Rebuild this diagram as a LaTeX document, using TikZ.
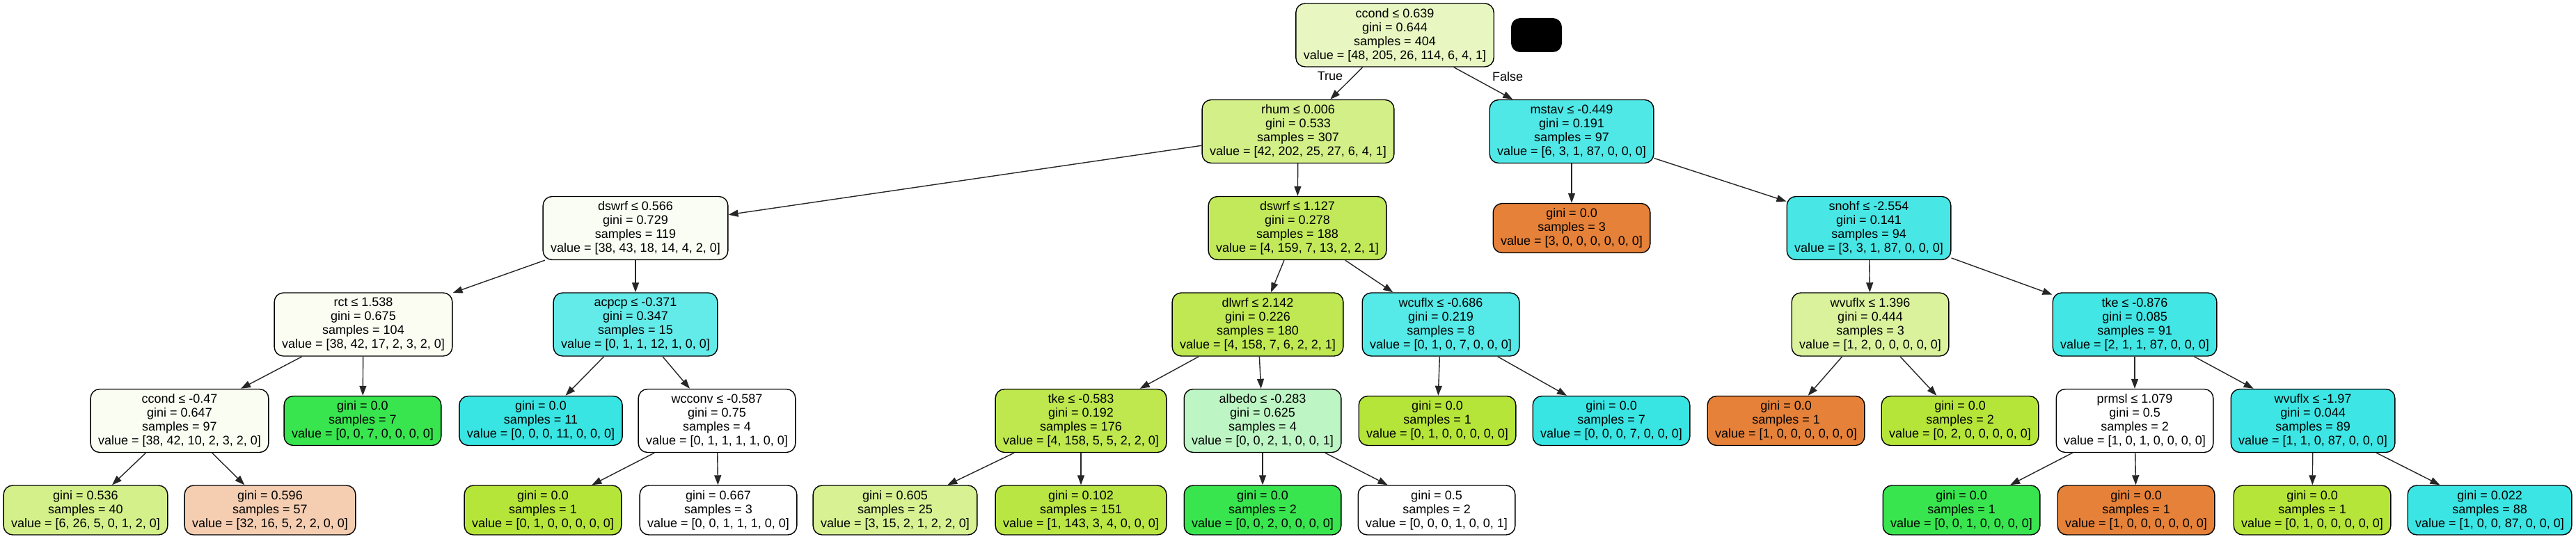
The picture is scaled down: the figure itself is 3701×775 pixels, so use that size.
\documentclass[tikz,border=0pt]{standalone}
\usepackage{fontspec}
\setmainfont{Liberation Sans}
\usetikzlibrary{arrows.meta}
\definecolor{cRoot}{RGB}{232,247,193}
\definecolor{cRhum}{RGB}{211,239,135}
\definecolor{cMstav}{RGB}{79,232,230}
\definecolor{cDswrfA}{RGB}{250,253,243}
\definecolor{cDswrfB}{RGB}{194,233,90}
\definecolor{cOrange}{RGB}{229,129,57}
\definecolor{cSnohf}{RGB}{72,231,229}
\definecolor{cRct}{RGB}{251,253,243}
\definecolor{cAcpcp}{RGB}{99,235,233}
\definecolor{cDlwrf}{RGB}{191,232,82}
\definecolor{cWcuflx}{RGB}{85,233,231}
\definecolor{cWvuflxA}{RGB}{218,242,156}
\definecolor{cTkeB}{RGB}{66,230,228}
\definecolor{cCcondB}{RGB}{250,253,242}
\definecolor{cGreen}{RGB}{57,229,79}
\definecolor{cCyan}{RGB}{57,229,227}
\definecolor{cYG}{RGB}{182,229,57}
\definecolor{cTkeA}{RGB}{190,232,78}
\definecolor{cAlbedo}{RGB}{189,246,196}
\definecolor{cWvuflxB}{RGB}{61,230,228}
\definecolor{cG536}{RGB}{212,240,138}
\definecolor{cG596}{RGB}{245,206,178}
\definecolor{cG605}{RGB}{215,241,147}
\definecolor{cG102}{RGB}{186,230,68}
\definecolor{cG022}{RGB}{59,229,227}
\tikzset{
  tnode/.style={draw=black, line width=1.4pt, rounded corners=13pt, align=center,
    inner xsep=11pt, inner ysep=0pt, font=\fontsize{18}{20}\selectfont},
  split/.style={tnode, minimum height=91pt},
  leaf/.style={tnode, minimum height=71pt},
  edge/.style={line width=1.4pt, draw=black!85, -{Triangle[length=14pt,width=10pt]}},
  elabel/.style={font=\fontsize{18}{20}\selectfont, inner sep=0pt},
}
\begin{document}
\begin{tikzpicture}[x=1pt, y=-1pt]
\useasboundingbox (0,0) rectangle (3701,775);
% level 0
\node[split, fill=cRoot] (n0) at (2004,50.5) {ccond ≤ 0.639\\gini = 0.644\\samples = 404\\value = [48, 205, 26, 114, 6, 4, 1]};
\node[fill=black, rounded corners=13pt, minimum width=73pt, minimum height=49pt, inner sep=0pt] (blk) at (2207.5,50.5) {};
% level 1
\node[split, fill=cRhum] (n1) at (1865,189) {rhum ≤ 0.006\\gini = 0.533\\samples = 307\\value = [42, 202, 25, 27, 6, 4, 1]};
\node[split, fill=cMstav] (n2) at (2258,189) {mstav ≤ -0.449\\gini = 0.191\\samples = 97\\value = [6, 3, 1, 87, 0, 0, 0]};
% level 2
\node[split, fill=cDswrfA] (n3) at (913,328) {dswrf ≤ 0.566\\gini = 0.729\\samples = 119\\value = [38, 43, 18, 14, 4, 2, 0]};
\node[split, fill=cDswrfB] (n4) at (1864,328) {dswrf ≤ 1.127\\gini = 0.278\\samples = 188\\value = [4, 159, 7, 13, 2, 2, 1]};
\node[leaf, fill=cOrange] (n5) at (2258,328) {gini = 0.0\\samples = 3\\value = [3, 0, 0, 0, 0, 0, 0]};
\node[split, fill=cSnohf] (n6) at (2685,328) {snohf ≤ -2.554\\gini = 0.141\\samples = 94\\value = [3, 3, 1, 87, 0, 0, 0]};
% level 3
\node[split, fill=cRct] (n7) at (522,466.5) {rct ≤ 1.538\\gini = 0.675\\samples = 104\\value = [38, 42, 17, 2, 3, 2, 0]};
\node[split, fill=cAcpcp] (n8) at (913,466.5) {acpcp ≤ -0.371\\gini = 0.347\\samples = 15\\value = [0, 1, 1, 12, 1, 0, 0]};
\node[split, fill=cDlwrf] (n9) at (1807,466.5) {dlwrf ≤ 2.142\\gini = 0.226\\samples = 180\\value = [4, 158, 7, 6, 2, 2, 1]};
\node[split, fill=cWcuflx] (n10) at (2070,466.5) {wcuflx ≤ -0.686\\gini = 0.219\\samples = 8\\value = [0, 1, 0, 7, 0, 0, 0]};
\node[split, fill=cWvuflxA] (n11) at (2687,466.5) {wvuflx ≤ 1.396\\gini = 0.444\\samples = 3\\value = [1, 2, 0, 0, 0, 0, 0]};
\node[split, fill=cTkeB] (n12) at (3067,466.5) {tke ≤ -0.876\\gini = 0.085\\samples = 91\\value = [2, 1, 1, 87, 0, 0, 0]};
% level 4
\node[split, fill=cCcondB] (n13) at (258,605) {ccond ≤ -0.47\\gini = 0.647\\samples = 97\\value = [38, 42, 10, 2, 3, 2, 0]};
\node[leaf, fill=cGreen] (n14) at (521,605) {gini = 0.0\\samples = 7\\value = [0, 0, 7, 0, 0, 0, 0]};
\node[leaf, fill=cCyan] (n15) at (777,605) {gini = 0.0\\samples = 11\\value = [0, 0, 0, 11, 0, 0, 0]};
\node[split, fill=white] (n16) at (1030,605) {wcconv ≤ -0.587\\gini = 0.75\\samples = 4\\value = [0, 1, 1, 1, 1, 0, 0]};
\node[split, fill=cTkeA] (n17) at (1553,605) {tke ≤ -0.583\\gini = 0.192\\samples = 176\\value = [4, 158, 5, 5, 2, 2, 0]};
\node[split, fill=cAlbedo] (n18) at (1814,605) {albedo ≤ -0.283\\gini = 0.625\\samples = 4\\value = [0, 0, 2, 1, 0, 0, 1]};
\node[leaf, fill=cYG] (n19) at (2065,605) {gini = 0.0\\samples = 1\\value = [0, 1, 0, 0, 0, 0, 0]};
\node[leaf, fill=cCyan] (n20) at (2315,605) {gini = 0.0\\samples = 7\\value = [0, 0, 0, 7, 0, 0, 0]};
\node[leaf, fill=cOrange] (n21) at (2566,605) {gini = 0.0\\samples = 1\\value = [1, 0, 0, 0, 0, 0, 0]};
\node[leaf, fill=cYG] (n22) at (2816,605) {gini = 0.0\\samples = 2\\value = [0, 2, 0, 0, 0, 0, 0]};
\node[split, fill=white] (n23) at (3067,605) {prmsl ≤ 1.079\\gini = 0.5\\samples = 2\\value = [1, 0, 1, 0, 0, 0, 0]};
\node[split, fill=cWvuflxB] (n24) at (3323,605) {wvuflx ≤ -1.97\\gini = 0.044\\samples = 89\\value = [1, 1, 0, 87, 0, 0, 0]};
% level 5
\node[leaf, fill=cG536] (n25) at (123,733.5) {gini = 0.536\\samples = 40\\value = [6, 26, 5, 0, 1, 2, 0]};
\node[leaf, fill=cG596] (n26) at (388,733.5) {gini = 0.596\\samples = 57\\value = [32, 16, 5, 2, 2, 0, 0]};
\node[leaf, fill=cYG] (n27) at (780,733.5) {gini = 0.0\\samples = 1\\value = [0, 1, 0, 0, 0, 0, 0]};
\node[leaf, fill=white] (n28) at (1032,733.5) {gini = 0.667\\samples = 3\\value = [0, 0, 1, 1, 1, 0, 0]};
\node[leaf, fill=cG605] (n29) at (1286,733.5) {gini = 0.605\\samples = 25\\value = [3, 15, 2, 1, 2, 2, 0]};
\node[leaf, fill=cG102] (n30) at (1553,733.5) {gini = 0.102\\samples = 151\\value = [1, 143, 3, 4, 0, 0, 0]};
\node[leaf, fill=cGreen] (n31) at (1814,733.5) {gini = 0.0\\samples = 2\\value = [0, 0, 2, 0, 0, 0, 0]};
\node[leaf, fill=white] (n32) at (2064,733.5) {gini = 0.5\\samples = 2\\value = [0, 0, 0, 1, 0, 0, 1]};
\node[leaf, fill=cGreen] (n33) at (2818,733.5) {gini = 0.0\\samples = 1\\value = [0, 0, 1, 0, 0, 0, 0]};
\node[leaf, fill=cOrange] (n34) at (3069,733.5) {gini = 0.0\\samples = 1\\value = [1, 0, 0, 0, 0, 0, 0]};
\node[leaf, fill=cYG] (n35) at (3322,733.5) {gini = 0.0\\samples = 1\\value = [0, 1, 0, 0, 0, 0, 0]};
\node[leaf, fill=cG022] (n36) at (3577,733.5) {gini = 0.022\\samples = 88\\value = [1, 0, 0, 87, 0, 0, 0]};
% edge labels
\node[elabel] (lt) at (1911,109) {True};
\node[elabel] (lf) at (2166,110) {False};
% edges
\draw[edge] (n0) -- (n1);
\draw[edge] (n0) -- (n2);
\draw[edge] (n1) -- (n3);
\draw[edge] (n1) -- (n4);
\draw[edge] (n2) -- (n5);
\draw[edge] (n2) -- (n6);
\draw[edge] (n3) -- (n7);
\draw[edge] (n3) -- (n8);
\draw[edge] (n4) -- (n9);
\draw[edge] (n4) -- (n10);
\draw[edge] (n6) -- (n11);
\draw[edge] (n6) -- (n12);
\draw[edge] (n7) -- (n13);
\draw[edge] (n7) -- (n14);
\draw[edge] (n8) -- (n15);
\draw[edge] (n8) -- (n16);
\draw[edge] (n9) -- (n17);
\draw[edge] (n9) -- (n18);
\draw[edge] (n10) -- (n19);
\draw[edge] (n10) -- (n20);
\draw[edge] (n11) -- (n21);
\draw[edge] (n11) -- (n22);
\draw[edge] (n12) -- (n23);
\draw[edge] (n12) -- (n24);
\draw[edge] (n13) -- (n25);
\draw[edge] (n13) -- (n26);
\draw[edge] (n16) -- (n27);
\draw[edge] (n16) -- (n28);
\draw[edge] (n17) -- (n29);
\draw[edge] (n17) -- (n30);
\draw[edge] (n18) -- (n31);
\draw[edge] (n18) -- (n32);
\draw[edge] (n23) -- (n33);
\draw[edge] (n23) -- (n34);
\draw[edge] (n24) -- (n35);
\draw[edge] (n24) -- (n36);
\end{tikzpicture}
\end{document}
